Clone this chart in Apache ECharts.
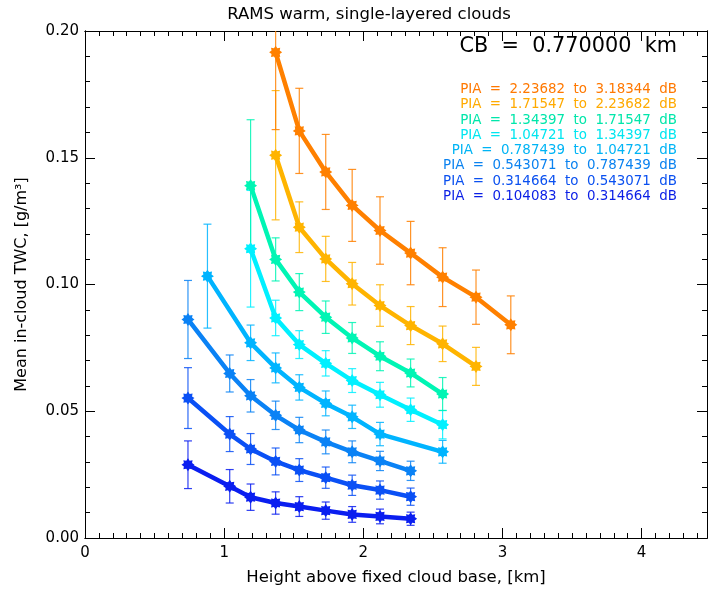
<!DOCTYPE html>
<html>
<head>
<meta charset="utf-8">
<script src="https://cdn.jsdelivr.net/npm/echarts@6/dist/echarts.min.js"></script>
<style>html,body{margin:0;padding:0;background:#fff}#c{width:714px;height:592px}</style>
</head>
<body>
<div id="c"></div>
<script>
// ---- data ----
const seriesNames = ['PIA = 0.104083 to 0.314664 dB','PIA = 0.314664 to 0.543071 dB','PIA = 0.543071 to 0.787439 dB','PIA = 0.787439 to 1.04721 dB','PIA = 1.04721 to 1.34397 dB','PIA = 1.34397 to 1.71547 dB','PIA = 1.71547 to 2.23682 dB','PIA = 2.23682 to 3.18344 dB'];
const x1 = [0.74, 1.04, 1.19, 1.37, 1.54, 1.73, 1.92, 2.12, 2.34];
const y1 = [0.0289, 0.0204, 0.0161, 0.0138, 0.0124, 0.0108, 0.0093, 0.0085, 0.0076];
const e1 = [0.0094, 0.0066, 0.0052, 0.0044, 0.0039, 0.0034, 0.0031, 0.0029, 0.0026];
const x2 = [0.74, 1.04, 1.19, 1.37, 1.54, 1.73, 1.92, 2.12, 2.34];
const y2 = [0.0552, 0.0410, 0.0351, 0.0302, 0.0268, 0.0238, 0.0208, 0.0189, 0.0163];
const e2 = [0.0120, 0.0069, 0.0061, 0.0053, 0.0045, 0.0042, 0.0040, 0.0036, 0.0034];
const x3 = [0.74, 1.04, 1.19, 1.37, 1.54, 1.73, 1.92, 2.12, 2.34];
const y3 = [0.0862, 0.0649, 0.0561, 0.0484, 0.0426, 0.0379, 0.0340, 0.0304, 0.0265];
const e3 = [0.0154, 0.0073, 0.0064, 0.0056, 0.0050, 0.0047, 0.0043, 0.0038, 0.0038];
const x4 = [0.88, 1.19, 1.37, 1.54, 1.73, 1.92, 2.12, 2.57];
const y4 = [0.1033, 0.0770, 0.0671, 0.0594, 0.0531, 0.0478, 0.0410, 0.0340];
const e4 = [0.0205, 0.0070, 0.0059, 0.0050, 0.0049, 0.0046, 0.0046, 0.0045];
const x5 = [1.19, 1.37, 1.54, 1.73, 1.92, 2.12, 2.34, 2.57];
const y5 = [0.1141, 0.0868, 0.0763, 0.0689, 0.0621, 0.0565, 0.0506, 0.0447];
const e5 = [0.0230, 0.0070, 0.0055, 0.0050, 0.0047, 0.0049, 0.0046, 0.0056];
const x6 = [1.19, 1.37, 1.54, 1.73, 1.92, 2.12, 2.34, 2.57];
const y6 = [0.1390, 0.1099, 0.0970, 0.0871, 0.0789, 0.0717, 0.0651, 0.0568];
const e6 = [0.0260, 0.0085, 0.0073, 0.0064, 0.0061, 0.0057, 0.0055, 0.0065];
const x7 = [1.37, 1.54, 1.73, 1.92, 2.12, 2.34, 2.57, 2.81];
const y7 = [0.1510, 0.1226, 0.1101, 0.1003, 0.0917, 0.0838, 0.0766, 0.0677];
const e7 = [0.0255, 0.0100, 0.0089, 0.0084, 0.0082, 0.0075, 0.0070, 0.0075];
const x8 = [1.37, 1.54, 1.73, 1.92, 2.12, 2.34, 2.57, 2.81, 3.06];
const y8 = [0.1916, 0.1606, 0.1444, 0.1312, 0.1213, 0.1124, 0.1029, 0.0950, 0.0841];
const e8 = [0.0305, 0.0168, 0.0148, 0.0142, 0.0133, 0.0125, 0.0116, 0.0107, 0.0114];
const xTickLabels = ['0','1','2','3','4'];
const yTickLabels = ['0.00','0.05','0.10','0.15','0.20'];

// ---- styles ----
const colors = ['#0a1ef0','#0a50f5','#0a82f5','#00b4ff','#00f0ff','#00f5b4','#ffb400','#ff8000'];
const legendColors = ['#0a1ee6','#0a50f0','#0a82f0','#00b4f5','#00e6f0','#00e6aa','#ffaa00','#ff7800'];
const xs = [x1,x2,x3,x4,x5,x6,x7,x8], ys = [y1,y2,y3,y4,y5,y6,y7,y8], es = [e1,e2,e3,e4,e5,e6,e7,e8];

function starPath(){
  let p = 'path://';
  for (let i = 0; i < 16; i++) {
    const a = i * Math.PI / 8 - Math.PI / 2;
    const r = (i % 2 === 0) ? 10 : 6.8;
    const px = (10 + r * Math.cos(a)).toFixed(2), py = (10 + r * Math.sin(a)).toFixed(2);
    p += (i === 0 ? 'M' : 'L') + px + ' ' + py + ' ';
  }
  return p + 'Z';
}
const SYM = starPath();
const FONT = 'DejaVu Sans';

const series = [];
for (let k = 0; k < 8; k++) {
  const errData = xs[k].map((x, i) => [x, ys[k][i] - es[k][i], ys[k][i] + es[k][i]]);
  series.push({
    type: 'custom', xAxisIndex: 0, yAxisIndex: 0, clip: true, silent: true, z: 2,
    data: errData,
    renderItem: function (params, api) {
      const x = api.value(0), lo = api.value(1), hi = api.value(2);
      const p1 = api.coord([x, lo]), p2 = api.coord([x, hi]);
      const w = 4;
      const st = { stroke: colors[k], lineWidth: 1.2, opacity: 0.85 };
      return { type: 'group', children: [
        { type: 'line', shape: { x1: p1[0], y1: p1[1], x2: p2[0], y2: p2[1] }, style: st },
        { type: 'line', shape: { x1: p1[0] - w, y1: p1[1], x2: p1[0] + w, y2: p1[1] }, style: st },
        { type: 'line', shape: { x1: p2[0] - w, y1: p2[1], x2: p2[0] + w, y2: p2[1] }, style: st }
      ]};
    }
  });
}
for (let k = 0; k < 8; k++) {
  series.push({
    type: 'line', name: seriesNames[k], xAxisIndex: 0, yAxisIndex: 0, z: 3 + k,
    data: xs[k].map((x, i) => [x, ys[k][i]]),
    symbol: SYM, symbolSize: 13, showSymbol: true,
    lineStyle: { color: colors[k], width: 4.5 },
    itemStyle: { color: colors[k] },
    silent: true, animation: false
  });
}

const legendGraphics = [];
for (let k = 7; k >= 0; k--) {
  legendGraphics.push({
    type: 'text', right: 37, top: 83 + (7 - k) * 15.3,
    style: { text: seriesNames[k].replace(/ = /, '  =  ').replace(/ to /, '  to  ').replace(/ dB/, '  dB'), fill: legendColors[k], font: '13.4px "' + FONT + '"', textAlign: 'right' }
  });
}

const X_MAX = 4.47;
const tickStyle = { color: '#000', width: 1 };
function xAx(pos, interval, len, labels) {
  const a = { type: 'value', position: pos, min: 0, max: X_MAX, interval: interval,
    axisLine: { show: true, onZero: false, lineStyle: tickStyle },
    splitLine: { show: false },
    axisTick: { show: true, inside: true, length: len, lineStyle: tickStyle },
    axisLabel: { show: false } };
  if (labels) {
    a.name = 'Height above fixed cloud base, [km]'; a.nameLocation = 'middle'; a.nameGap = 31;
    a.nameTextStyle = { fontFamily: FONT, fontSize: 16.5, color: '#000' };
    a.axisLabel = { show: true, showMaxLabel: false, margin: 8, fontFamily: FONT, fontSize: 15, color: '#000',
      formatter: v => { const i = Math.round(v); return Math.abs(v - i) < 1e-6 && xTickLabels[i] !== undefined ? xTickLabels[i] : ''; } };
  }
  return a;
}
function yAx(pos, interval, len, labels) {
  const a = { type: 'value', position: pos, min: 0, max: 0.2, interval: interval,
    axisLine: { show: true, onZero: false, lineStyle: tickStyle },
    splitLine: { show: false },
    axisTick: { show: true, inside: true, length: len, lineStyle: tickStyle },
    axisLabel: { show: false } };
  if (labels) {
    a.name = 'Mean in-cloud TWC, [g/m³]'; a.nameLocation = 'middle'; a.nameGap = 55;
    a.nameTextStyle = { fontFamily: FONT, fontSize: 16, color: '#000' };
    a.axisLabel = { show: true, margin: 6, fontFamily: FONT, fontSize: 15, color: '#000',
      formatter: v => { const i = Math.round(v / 0.05); return Math.abs(v / 0.05 - i) < 1e-6 && yTickLabels[i] !== undefined ? yTickLabels[i] : ''; } };
  }
  return a;
}

const option = {
  animation: false,
  backgroundColor: '#fff',
  title: { text: 'RAMS warm, single-layered clouds', left: 364, textAlign: 'center', top: 1,
    textStyle: { fontFamily: FONT, fontWeight: 'normal', fontSize: 16.5, color: '#000' } },
  grid: { left: 85, right: 7, top: 31, bottom: 54 },
  xAxis: [ xAx('bottom', 1, 10, true), xAx('bottom', 0.1, 5, false), xAx('top', 1, 10, false), xAx('top', 0.1, 5, false) ],
  yAxis: [ yAx('left', 0.05, 10, true), yAx('left', 0.01, 5, false), yAx('right', 0.05, 10, false), yAx('right', 0.01, 5, false) ],
  graphic: [
    { type: 'text', right: 37, top: 36, style: { text: 'CB  =  0.770000  km', fill: '#000', font: '20.8px "' + FONT + '"', textAlign: 'right' } }
  ].concat(legendGraphics),
  series: series
};
const chart = echarts.init(document.getElementById('c'), null, { renderer: 'canvas' });
chart.setOption(option);
</script>
</body>
</html>
